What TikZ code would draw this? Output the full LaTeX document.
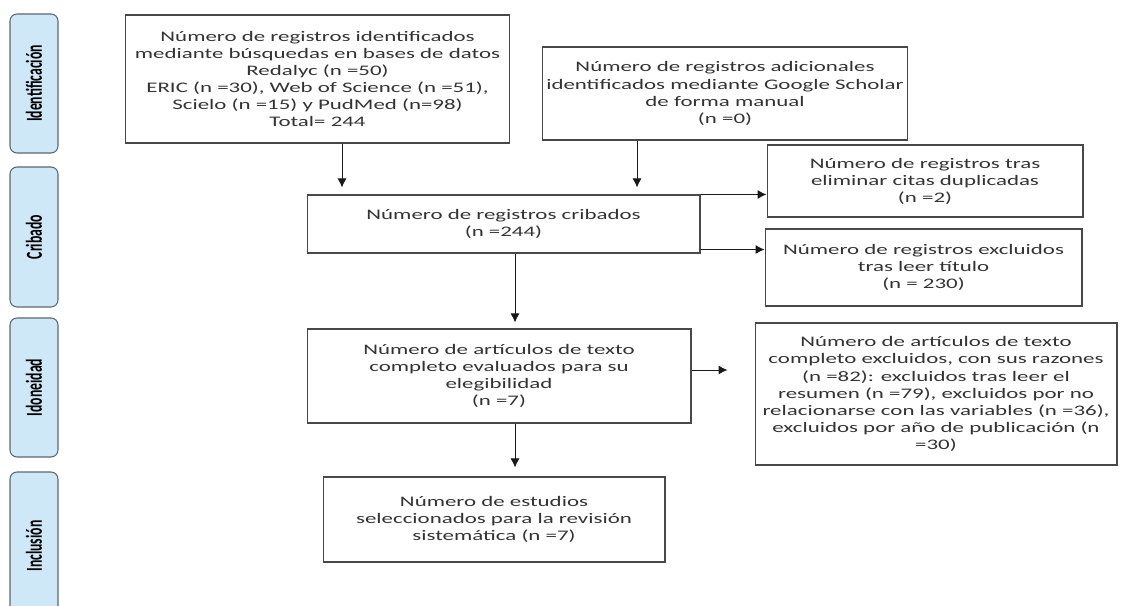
\documentclass[tikz,border=0pt]{standalone}
\usepackage{fontspec}
\setmainfont{Carlito}[FakeStretch=1.57]
\newfontfamily\stagefont{Carlito}[FakeStretch=0.6]
\usepackage{xcolor}
\usepackage{tikz}
\usetikzlibrary{positioning, arrows.meta, calc}
\definecolor{stagefill}{HTML}{CFE8F7}
\definecolor{stagedraw}{HTML}{5B6770}
\definecolor{boxdraw}{HTML}{484848}
\definecolor{ink}{HTML}{333333}
\tikzset{
  recbox/.style = {rectangle, draw=boxdraw, line width=0.6pt, fill=white,
                   align=center, text=ink, inner sep=2pt,
                   font=\fontsize{8.3}{9.7}\selectfont},
  stage/.style  = {rectangle, rounded corners=4pt, draw=stagedraw, line width=0.6pt,
                   fill=stagefill, rotate=90, minimum height=0.96cm,
                   text=black, font=\stagefont\bfseries\fontsize{13}{13}\selectfont},
  ar/.style     = {-{Latex[length=1.8mm,width=1.8mm]}, line width=0.55pt, draw=black!90},
}
\begin{document}
\begin{tikzpicture}[x=0.02cm, y=-0.02cm]
  \useasboundingbox (0,0) rectangle (1124,605);

  % stages
  \node[stage, minimum width=2.78cm] (sId) at (34,83.5) {Identificación};
  \node[stage, minimum width=2.80cm] (sCr) at (34,237) {Cribado};
  \node[stage, minimum width=2.78cm] (sIo) at (34,387.5) {Idoneidad};
  \node[stage, minimum width=2.96cm] (sIn) at (34,546) {Inclusión};

  % records
  \node[recbox, minimum width=7.7cm, minimum height=2.56cm] (recA) at (317.5,79)
       {Número de registros identificados\\ mediante búsquedas en bases de datos\\
        Redalyc (n =50)\\ ERIC (n =30), Web of Science (n =51),\\
        Scielo (n =15) y PudMed (n=98)\\ Total= 244};
  \node[recbox, minimum width=7.2cm, minimum height=1.86cm] (recB) at (725,93.5)
       {Número de registros adicionales\\ identificados mediante Google Scholar\\
        de forma manual\\ (n =0)};
  \node[recbox, minimum width=7.86cm, minimum height=1.16cm] (crib) at (503.5,224)
       {Número de registros cribados\\ (n =244)};
  \node[recbox, minimum width=6.32cm, minimum height=1.44cm] (dup) at (925,181)
       {Número de registros tras\\ eliminar citas duplicadas\\ (n =2)};
  \node[recbox, minimum width=6.34cm, minimum height=1.54cm] (excl) at (923.5,267.5)
       {Número de registros excluidos\\ tras leer título\\ (n = 230)};
  \node[recbox, minimum width=7.68cm, minimum height=1.88cm] (eleg) at (499,376)
       {Número de artículos de texto\\ completo evaluados para su\\ elegibilidad\\ (n =7)};
  \node[recbox, minimum width=7.24cm, minimum height=2.84cm] (exft) at (936,394)
       {Número de artículos de texto\\ completo excluidos, con sus razones\\
        (n =82): excluidos tras leer el\\ resumen (n =79), excluidos por no\\
        relacionarse con las variables (n =36),\\ excluidos por año de publicación (n\\ =30)};
  \node[recbox, minimum width=6.84cm, minimum height=1.7cm] (sel) at (494,519.5)
       {Número de estudios\\ seleccionados para la revisión\\ sistemática (n =7)};

  % arrows
  \draw[ar, shorten >=0.14cm] ([xshift=0.49cm]recA.south) -- ([xshift=0.49cm]recA.south |- crib.north);
  \draw[ar, shorten >=0.14cm] ([xshift=-1.76cm]recB.south) -- ([xshift=-1.76cm]recB.south |- crib.north);
  \draw[ar] (crib.north east) -- (crib.north east -| dup.west);
  \draw[ar] ([yshift=0.08cm]crib.south east) -- ([yshift=0.08cm]crib.south east -| excl.west);
  \draw[ar, shorten >=0.12cm] ([xshift=0.23cm]crib.south) -- ([xshift=0.23cm]crib.south |- eleg.north);
  \draw[ar, shorten >=0.54cm] ([yshift=0.12cm]eleg.east) -- ([yshift=0.12cm]eleg.east -| exft.west);
  \draw[ar, shorten >=0.18cm] ([xshift=0.32cm]eleg.south) -- ([xshift=0.32cm]eleg.south |- sel.north);

\end{tikzpicture}
\end{document}
